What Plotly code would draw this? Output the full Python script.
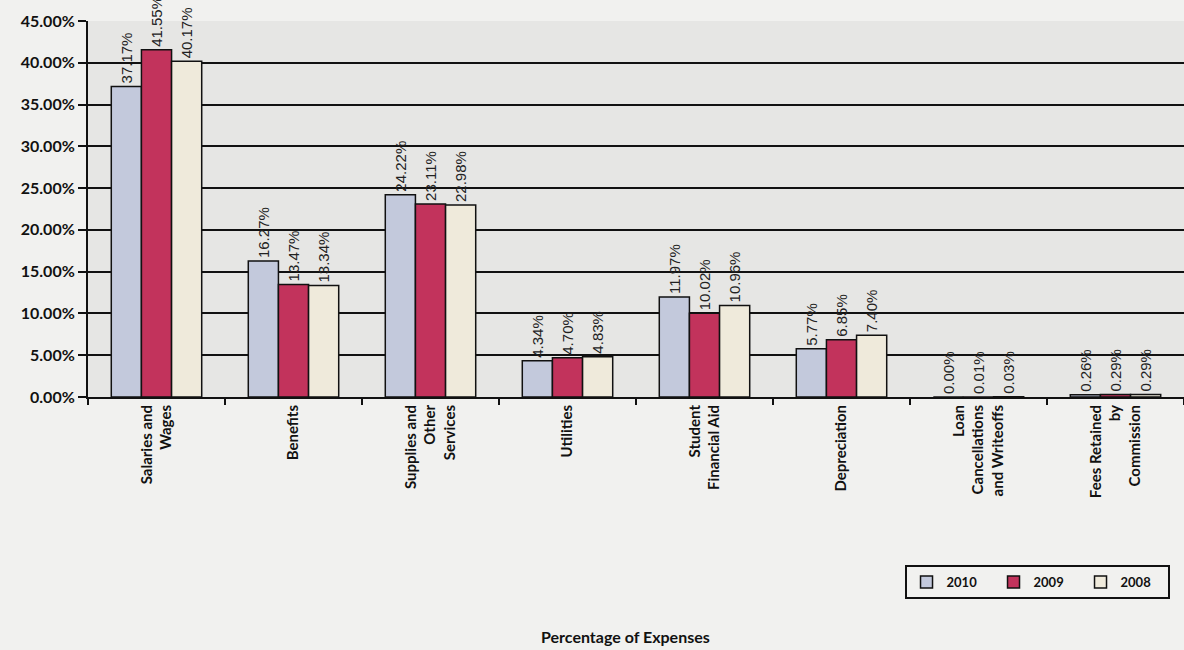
import plotly.graph_objects as go

categories = ["Salaries and<br>Wages", "Benefits", "Supplies and<br>Other<br>Services", "Utilities",
              "Student<br>Financial Aid", "Depreciation", "Loan<br>Cancellations<br>and Writeoffs",
              "Fees Retained<br>by<br>Commission"]
years = ["2010", "2009", "2008"]
v2010 = [37.17, 16.27, 24.22, 4.34, 11.97, 5.77, 0.00, 0.26]
v2009 = [41.55, 13.47, 23.11, 4.70, 10.02, 6.85, 0.01, 0.29]
v2008 = [40.17, 13.34, 22.98, 4.83, 10.96, 7.40, 0.03, 0.29]
colors = ["#c3c9dc", "#c2335c", "#efeadb"]

fig = go.Figure()
for name, vals, col in zip(years, [v2010, v2009, v2008], colors):
    fig.add_trace(go.Bar(
        x=categories, y=[v / 100 for v in vals], name=f"<b>{name}</b>",
        marker=dict(color=col, line=dict(color="#111111", width=1.5)),
        text=[f"{v:.2f}%" for v in vals], textposition="outside", textangle=-90,
        constraintext="none",
        textfont=dict(family="Liberation Sans", size=15, color="#222222"),
        cliponaxis=False,
    ))

fig.update_layout(
    width=1184, height=650,
    margin=dict(l=88, r=0, t=21, b=253, autoexpand=False),
    paper_bgcolor="#f1f1ef", plot_bgcolor="#e6e6e4",
    barmode="group", bargap=0.34, bargroupgap=0.0,
    font=dict(family="Lato", size=15, color="#111111"),
    legend=dict(orientation="h", x=0.745, y=-0.447, xanchor="left", yanchor="top",
                bgcolor="#f1f1ef", bordercolor="#111111", borderwidth=2,
                font=dict(family="Lato", size=13, color="#111111"),
                itemwidth=30, traceorder="normal", entrywidth=42),
    showlegend=True,
)
fig.update_yaxes(range=[0, 0.45], dtick=0.05, tickformat=".2%",
                 showgrid=True, gridcolor="#111111", gridwidth=2,
                 showline=True, linecolor="#111111", linewidth=2,
                 ticks="outside", ticklen=8, tickwidth=2, tickcolor="#111111",
                 tickfont=dict(family="Lato", size=16, color="#111111"),
                 zeroline=False, tickprefix="<b>", ticksuffix="</b>")
fig.update_xaxes(tickangle=-90, showline=True, linecolor="#111111", linewidth=2,
                 ticks="outside", tickson="boundaries", ticklen=6, tickwidth=2, tickcolor="#111111",
                 tickfont=dict(family="Lato", size=15, color="#111111"),
                 tickprefix="<b>", ticksuffix="</b>")
fig.add_annotation(text="<b>Percentage of Expenses</b>", xref="paper", yref="paper",
                   x=0.49, y=-0.638, showarrow=False, xanchor="center", yanchor="middle",
                   font=dict(family="Lato", size=16, color="#111111"))

fig.write_html("out.html")
